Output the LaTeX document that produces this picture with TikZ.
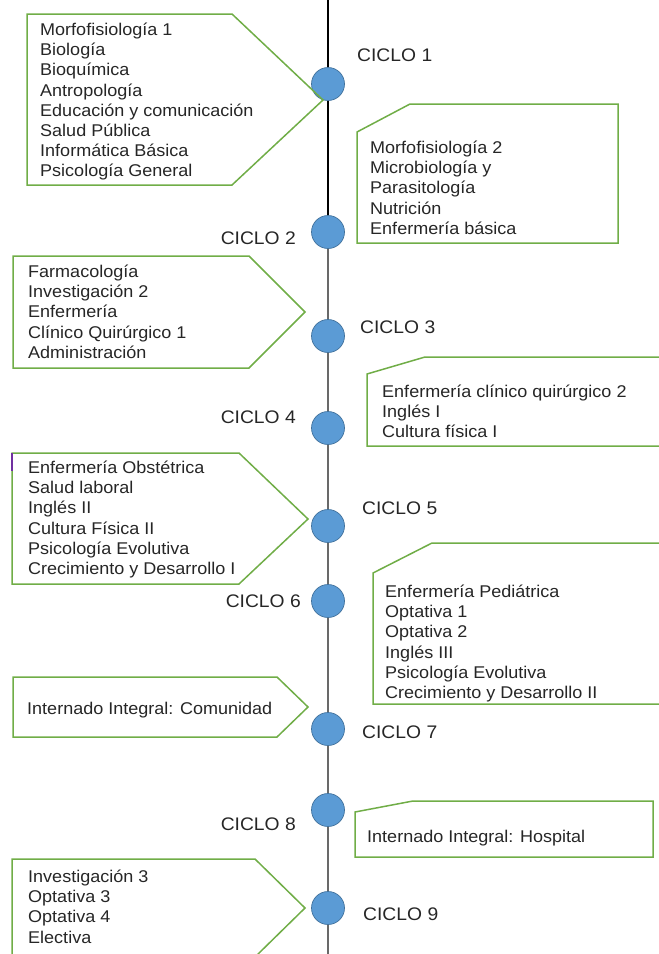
\documentclass[tikz,border=0pt]{standalone}
\usepackage{fontspec}
\setmainfont{Liberation Sans}[FakeStretch=1.06]
\usetikzlibrary{backgrounds}
\definecolor{boxgreen}{RGB}{112,173,71}
\definecolor{dotblue}{RGB}{91,155,213}
\definecolor{dotedge}{RGB}{65,113,156}
\definecolor{linegray}{RGB}{105,105,105}
\definecolor{markpurple}{RGB}{112,48,160}
\tikzset{
  txt/.style={font=\fontsize{17}{20.2}\selectfont, inner sep=0pt, align=left, text=black!85},
  lbl/.style={font=\fontsize{17}{20.2}\selectfont, inner sep=0pt, text=black!85},
  cyc/.style={font=\fontsize{18.2}{20.2}\selectfont, inner sep=0pt, text=black!85},
  dot/.style={circle, fill=dotblue, draw=dotedge, line width=0.7pt, minimum size=33pt, inner sep=0pt},
  callout/.style={draw=boxgreen, line width=1.5pt, line join=miter},
}
\begin{document}
\begin{tikzpicture}[x=1pt,y=-1pt]
\useasboundingbox (0,0) rectangle (659,954);
\clip (0,0) rectangle (659,954);
% circles
\node[dot] (c1) at (328,84) {};
\node[dot] (c2) at (328,232) {};
\node[dot] (c3) at (328,336) {};
\node[dot] (c4) at (328,428) {};
\node[dot] (c5) at (328,526) {};
\node[dot] (c6) at (328,601) {};
\node[dot] (c7) at (328,729) {};
\node[dot] (c8) at (328,810) {};
\node[dot] (c9) at (328,908) {};
\coordinate (top) at (328,0);
\coordinate (bot) at (328,954);
\begin{scope}[on background layer]
\draw[black, line width=2pt] (top) -- (c2.center);
\draw[linegray, line width=2.4pt] (c2.center) -- (bot);
\end{scope}
% labels
\node[cyc, anchor=base west] (l1) at (357,61) {CICLO 1};
\node[cyc, anchor=base east] (l2) at (296,244) {CICLO 2};
\node[cyc, anchor=base west] (l3) at (360,333) {CICLO 3};
\node[cyc, anchor=base east] (l4) at (296,423) {CICLO 4};
\node[cyc, anchor=base west] (l5) at (362,514) {CICLO 5};
\node[cyc, anchor=base east] (l6) at (301,607) {CICLO 6};
\node[cyc, anchor=base west] (l7) at (362,738) {CICLO 7};
\node[cyc, anchor=base east] (l8) at (296,830) {CICLO 8};
\node[cyc, anchor=base west] (l9) at (363,920) {CICLO 9};
% callout shapes
\draw[callout] (27,14) -- (232,14) -- (323,100) -- (232,185) -- (27,185) -- cycle;
\draw[callout] (357,132) -- (410,104) -- (618,104) -- (618,243) -- (357,243) -- cycle;
\draw[callout] (13,256) -- (249,256) -- (305,312) -- (249,368) -- (13,368) -- cycle;
\draw[callout] (367,374) -- (425,357) -- (672,357) -- (672,446) -- (367,446) -- cycle;
\draw[callout] (12,453) -- (239,453) -- (308,519) -- (239,584) -- (12,584) -- cycle;
\draw[markpurple, line width=1.2pt] (12,453) -- (12,471);
\draw[callout] (373,573) -- (432,543) -- (672,543) -- (672,704) -- (373,704) -- cycle;
\draw[callout] (13,677) -- (277,677) -- (308,707) -- (277,737) -- (13,737) -- cycle;
\draw[callout] (355,812) -- (413,801) -- (653,801) -- (653,857) -- (355,857) -- cycle;
\draw[callout] (12,859) -- (255,859) -- (305,908) -- (255,957) -- (12,957) -- cycle;
% texts
\node[txt, anchor=north west] (t1) at (40,22.7) {Morfofisiología 1\\Biología\\Bioquímica\\Antropología\\Educación y comunicación\\Salud Pública\\Informática Básica\\Psicología General};
\node[txt, anchor=north west] (t2) at (370,140.7) {Morfofisiología 2\\Microbiología y\\Parasitología\\Nutrición\\Enfermería básica};
\node[txt, anchor=north west] (t3) at (28,264.7) {Farmacología\\Investigación 2\\Enfermería\\Clínico Quirúrgico 1\\Administración};
\node[txt, anchor=north west] (t4) at (382,384.7) {Enfermería clínico quirúrgico 2\\Inglés I\\Cultura física I};
\node[txt, anchor=north west] (t5) at (28,460.7) {Enfermería Obstétrica\\Salud laboral\\Inglés II\\Cultura Física II\\Psicología Evolutiva\\Crecimiento y Desarrollo I};
\node[txt, anchor=north west] (t6) at (385,584.7) {Enfermería Pediátrica\\Optativa 1\\Optativa 2\\Inglés III\\Psicología Evolutiva\\Crecimiento y Desarrollo II};
\node[lbl, anchor=base west] (t7) at (27,714) {Internado Integral: Comunidad};
\node[lbl, anchor=base west] (t8) at (367,842) {Internado Integral: Hospital};
\node[txt, anchor=north west] (t9) at (28,869.7) {Investigación 3\\Optativa 3\\Optativa 4\\Electiva};
\end{tikzpicture}
\end{document}
